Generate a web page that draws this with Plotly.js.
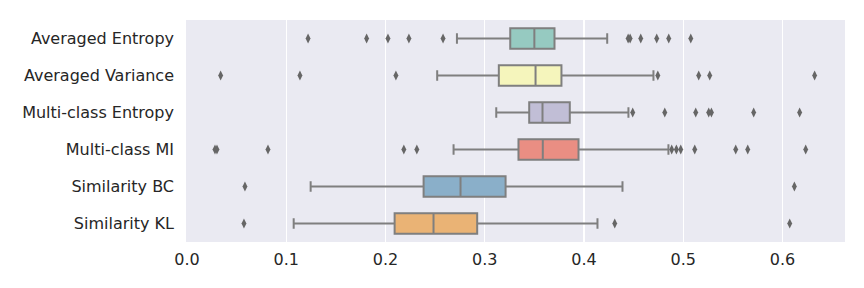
<!DOCTYPE html>
<html>
<head>
<meta charset="utf-8">
<script src="https://cdn.plot.ly/plotly-3.0.1.min.js"></script>
<style>html,body{margin:0;padding:0;background:#fff;}#chart{width:864px;height:288px;}</style>
</head>
<body>
<div id="chart"></div>
<script>
const categories = ["Averaged Entropy", "Averaged Variance", "Multi-class Entropy", "Multi-class MI", "Similarity BC", "Similarity KL"];
const lowerFence = [0.272, 0.2521, 0.3116, 0.2686, 0.1246, 0.1075];
const q1Values   = [0.3257, 0.3142, 0.3448, 0.3340, 0.2384, 0.2092];
const medians    = [0.3500, 0.3512, 0.3582, 0.3585, 0.2756, 0.2484];
const q3Values   = [0.3703, 0.3773, 0.3857, 0.3945, 0.3210, 0.2924];
const upperFence = [0.4234, 0.4700, 0.4448, 0.4851, 0.4388, 0.4136];
const outliersAE   = [0.122, 0.181, 0.2025, 0.2236, 0.258, 0.4445, 0.4465, 0.4572, 0.4733, 0.4854, 0.5076];
const outliersAV   = [0.0339, 0.1138, 0.2105, 0.4744, 0.5156, 0.5267, 0.6324];
const outliersMCE  = [0.4491, 0.4814, 0.5126, 0.5257, 0.5284, 0.571, 0.6173];
const outliersMCMI = [0.0282, 0.0302, 0.0816, 0.2185, 0.2316, 0.4884, 0.4931, 0.4975, 0.5116, 0.5529, 0.565, 0.6234];
const outliersBC   = [0.0584, 0.612];
const outliersKL   = [0.0574, 0.431, 0.6073];
const xTickVals = [0.0, 0.1, 0.2, 0.3, 0.4, 0.5, 0.6];
const xTickText = ["0.0", "0.1", "0.2", "0.3", "0.4", "0.5", "0.6"];

const fillColors = ["#96cac1", "#f5f5bc", "#c1bed6", "#ea8e83", "#8aafc9", "#eab375"];
const lineGray = "#7f7f7f";

const traces = categories.map((c, i) => ({
  type: "box",
  orientation: "h",
  y: [c],
  q1: [q1Values[i]],
  median: [medians[i]],
  q3: [q3Values[i]],
  lowerfence: [lowerFence[i]],
  upperfence: [upperFence[i]],
  fillcolor: fillColors[i],
  line: {color: lineGray, width: 2},
  whiskerwidth: 0.5,
  boxpoints: false,
  showlegend: false,
  hoverinfo: "skip"
}));

const outlierLists = [outliersAE, outliersAV, outliersMCE, outliersMCMI, outliersBC, outliersKL];
const ox = [], oy = [];
outlierLists.forEach((lst, i) => lst.forEach(v => { ox.push(v); oy.push(categories[i]); }));
traces.push({
  type: "scatter",
  mode: "markers",
  x: ox,
  y: oy,
  marker: {symbol: "diamond-tall", size: 7, color: "#666666", line: {width: 0}},
  showlegend: false,
  hoverinfo: "skip"
});

const layout = {
  width: 864,
  height: 288,
  margin: {l: 186, r: 19, t: 20, b: 46},
  paper_bgcolor: "#ffffff",
  plot_bgcolor: "#eaeaf2",
  font: {family: "DejaVu Sans", size: 16, color: "#262626"},
  boxgap: 0.2,
  boxmode: "overlay",
  xaxis: {
    range: [-0.001, 0.663],
    tickvals: xTickVals,
    ticktext: xTickText,
    showgrid: true,
    gridcolor: "#ffffff",
    gridwidth: 1.2,
    zeroline: false,
    showline: false,
    ticks: "",
    ticklabelstandoff: 6,
    tickfont: {family: "DejaVu Sans", size: 16, color: "#262626"}
  },
  yaxis: {
    type: "category",
    categoryorder: "array",
    categoryarray: categories,
    autorange: "reversed",
    showgrid: false,
    zeroline: false,
    showline: false,
    ticks: "",
    ticklabelstandoff: 11,
    tickfont: {family: "DejaVu Sans", size: 16, color: "#262626"}
  }
};

Plotly.newPlot("chart", traces, layout, {displayModeBar: false, staticPlot: true});
</script>
</body>
</html>
